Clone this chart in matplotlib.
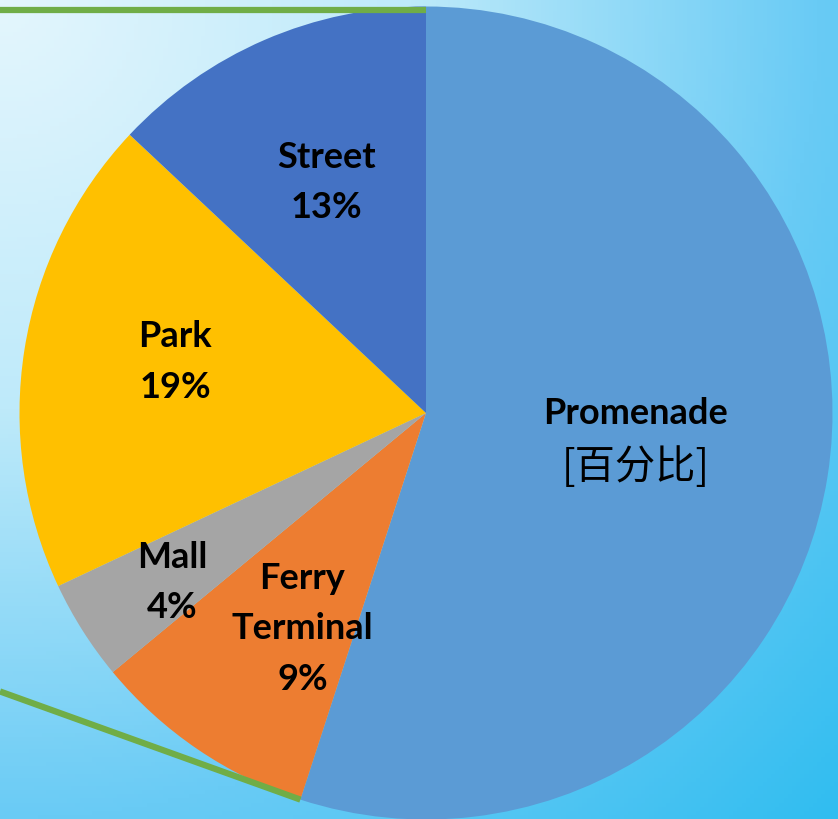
import numpy as np
import matplotlib
matplotlib.use('Agg')
import matplotlib.pyplot as plt

plt.rcParams['font.family'] = ['Lato', 'Noto Sans CJK SC', 'DejaVu Sans']

# data (clockwise from 12 o'clock)
categories = ['Promenade', 'Ferry\nTerminal', 'Mall', 'Park', 'Street']
shares = [55, 9, 4, 19, 13]
label_texts = ['Promenade', 'Ferry\nTerminal\n9%', 'Mall\n4%', 'Park\n19%', 'Street\n13%']
placeholder = '[百分比]'
colors = ['#5B9BD5', '#ED7D31', '#A5A5A5', '#FFC000', '#4472C4']

# label anchors: (fraction of radius, angle in degrees)
label_pos = [(0.52, -7.1), (0.61, 240.1), (0.75, 213.6), (0.63, 168.3), (0.62, 113.2)]

fig = plt.figure(figsize=(8.38, 8.20), dpi=100)
ax = fig.add_axes([0, 0, 1, 1])
R = 406.5
cx, cy = 426, 414
xmin, xmax = -cx / R, (838 - cx) / R
ymin, ymax = -(820 - cy) / R, cy / R

# background gradient, radiating from the top-left corner
ny, nx = 200, 200
gx, gy = np.meshgrid(np.linspace(0, 838, nx), np.linspace(0, 820, ny))
d = np.sqrt(gx ** 2 + gy ** 2) / np.hypot(838, 820)
stops = [0, 0.35, 0.7, 1.0]
cols = np.array([[228, 246, 253], [190, 234, 250], [105, 203, 245], [48, 189, 240]]) / 255
img = np.dstack([np.interp(d, stops, cols[:, k]) for k in range(3)])
ax.imshow(img, extent=(xmin, xmax, ymin, ymax), origin='upper', aspect='auto', zorder=0)

wedges, _ = ax.pie(shares, colors=colors, startangle=90, counterclock=False,
                   radius=1, center=(0, 0), frame=True, wedgeprops=dict(linewidth=0))
for w in wedges:
    w.set_zorder(2)
ax.set_xlim(xmin, xmax)
ax.set_ylim(ymin, ymax)
ax.axis('off')

for i, (txt, (f, a)) in enumerate(zip(label_texts, label_pos)):
    t = np.deg2rad(a)
    dy = 27 / R if i == 0 else 0
    ax.text(f * np.cos(t), f * np.sin(t) + dy, txt, ha='center', va='center',
            fontsize=26, fontweight='bold', linespacing=1.65, zorder=3)

# the "[百分比]" line under Promenade
f, a = label_pos[0]
t = np.deg2rad(a)
ax.text(f * np.cos(t), f * np.sin(t) - 27 / R, placeholder, ha='center', va='center',
        fontsize=29, family=['Noto Sans CJK SC'], zorder=3)

# connector lines (pie-of-pie leftovers)
ax.plot([xmin, 0], [1 - 0.008, 1 - 0.008], color='#70AD47', lw=4.5, zorder=4, solid_capstyle='butt')
bx = np.cos(np.deg2rad(wedges[0].theta1))
by = np.sin(np.deg2rad(wedges[0].theta1))
ax.plot([xmin, bx], [-0.685, by], color='#70AD47', lw=4.5, zorder=4, solid_capstyle='butt')

fig.savefig('out.png', dpi=100)
